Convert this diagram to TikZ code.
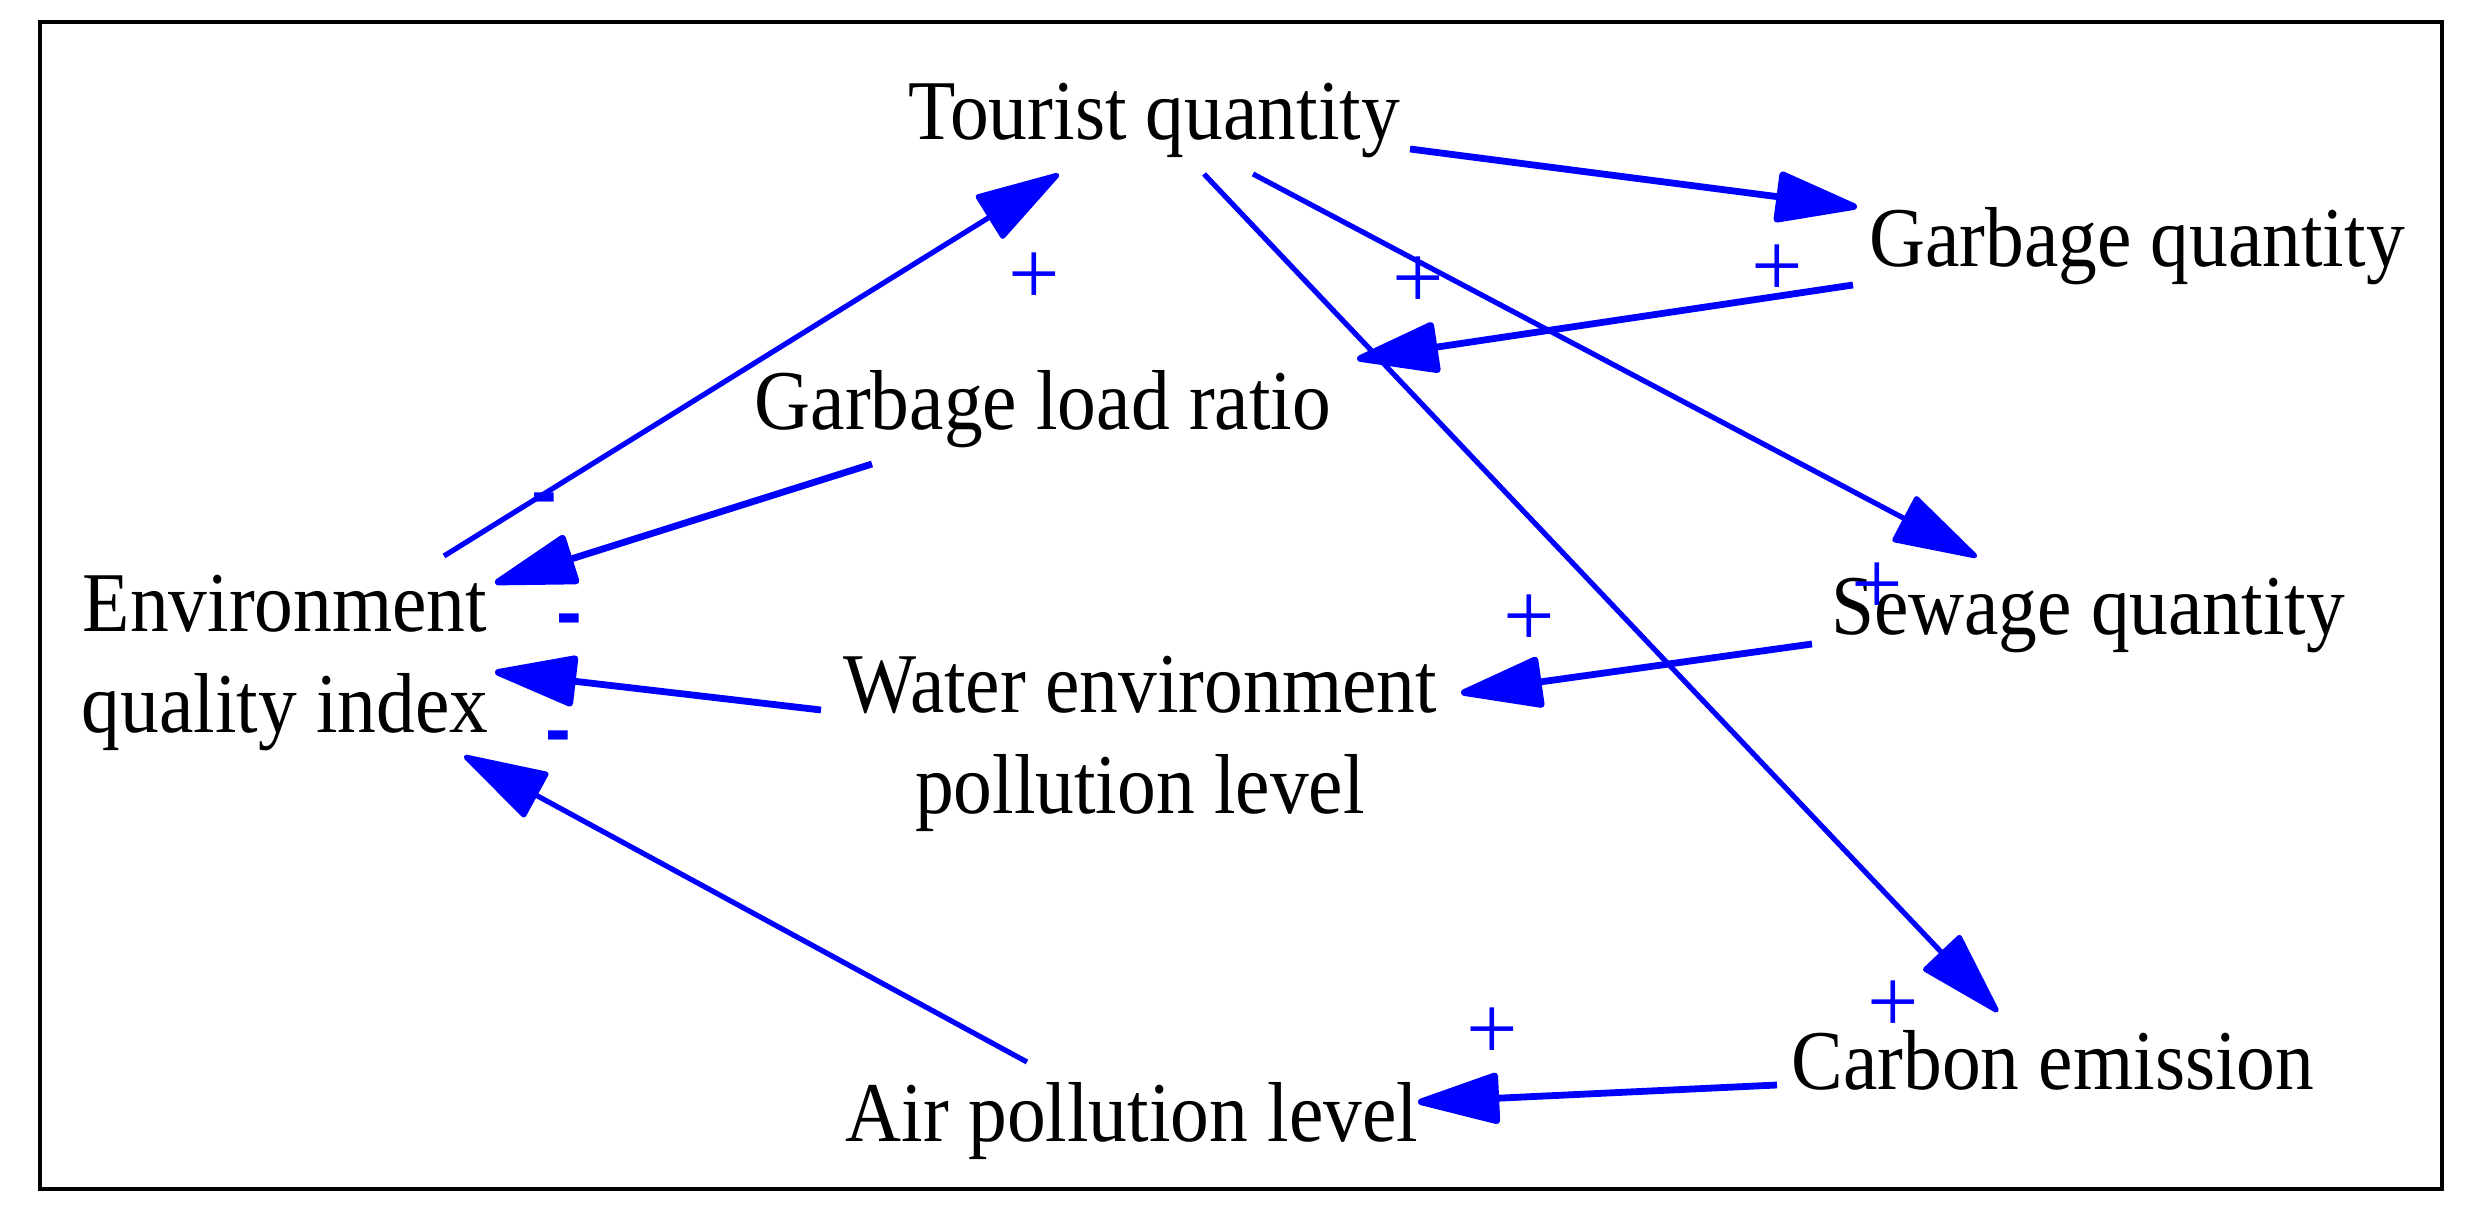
\documentclass[tikz,border=0pt]{standalone}
\usepackage{fontspec}
\setmainfont[FakeStretch=0.91]{Liberation Serif}
\newfontfamily\signfont{Liberation Sans}
\newfontfamily\plusfont{Liberation Serif}
\usetikzlibrary{arrows.meta,calc}
\definecolor{linkblue}{RGB}{0,0,255}
\begin{document}
\begin{tikzpicture}[x=0.01cm,y=-0.01cm,
  var/.style={inner sep=0pt,font=\fontsize{24.2}{28.74}\selectfont,anchor=base,align=center},
  link/.style={draw=linkblue,fill=linkblue,line width=0.068cm,-{Triangle[length=0.9cm,width=0.52cm,round]}},
  thinlink/.style={link,line width=0.052cm},
  plussign/.style={text=linkblue,inner sep=0pt,font=\plusfont\fontsize{26}{30}\selectfont},
  minussign/.style={text=linkblue,inner sep=0pt,font=\signfont\bfseries\fontsize{22}{26}\selectfont}]
\useasboundingbox (0,0) rectangle (2478,1219);
\draw[line width=0.038cm] (40,22) rectangle (2442,1189);

% variables
\node[var] (tq)  at (1154,140)  {Tourist quantity};
\node[var] (gq)  at (2137,267)  {Garbage quantity};
\node[var] (glr) at (1043,430)  {Garbage load ratio};
\node[var] (sq)  at (2088,635)  {Sewage quantity};
\node[var] (ce)  at (2053,1090) {Carbon emission};
\node[var] (apl) at (1132,1141) {Air pollution level};
\node[var] (env) at (285,733)   {Environment\\quality index};
\node[var] (wep) at (1140,814)  {Water environment\\pollution level};

% links
\draw[thinlink] ($(env.base)+(159,-177)$) -- ($(tq.base)+(-95,34)$);
\draw[link] ($(tq.base)+(256,9)$) -- ($(gq.base)+(-280,-60)$);
\draw[link] ($(gq.base)+(-284,18)$) -- ($(glr.base)+(314,-71)$);
\draw[thinlink] ($(tq.base)+(99,34)$) -- ($(sq.base)+(-111,-78)$);
\draw[thinlink] ($(tq.base)+(50,34)$) -- ($(ce.base)+(-55,-78)$);
\draw[link] ($(glr.base)+(-171,34)$) -- ($(env.base)+(210,-150)$);
\draw[link] ($(wep.base)+(-319,-104)$) -- ($(env.base)+(210,-61)$);
\draw[link] ($(sq.base)+(-276,9)$) -- ($(wep.base)+(321,-121)$);
\draw[link] ($(ce.base)+(-276,-5)$) -- ($(apl.base)+(286,-39)$);
\draw[thinlink] ($(apl.base)+(-105,-79)$) -- ($(env.base)+(179,23)$);

% polarity signs
\node[plussign] (p1) at (1034,279) {+};
\node[plussign] (p2) at (1418,283) {+};
\node[plussign] (p3) at (1777,271) {+};
\node[plussign] (p4) at (1529,621) {+};
\node[plussign] (p5) at (1877,589) {+};
\node[plussign] (p6) at (1893,1007) {+};
\node[plussign] (p7) at (1492,1034) {+};
\node[minussign] (m1) at (544,505) {-};
\node[minussign] (m2) at (569,626) {-};
\node[minussign] (m3) at (558,743) {-};
\end{tikzpicture}
\end{document}
